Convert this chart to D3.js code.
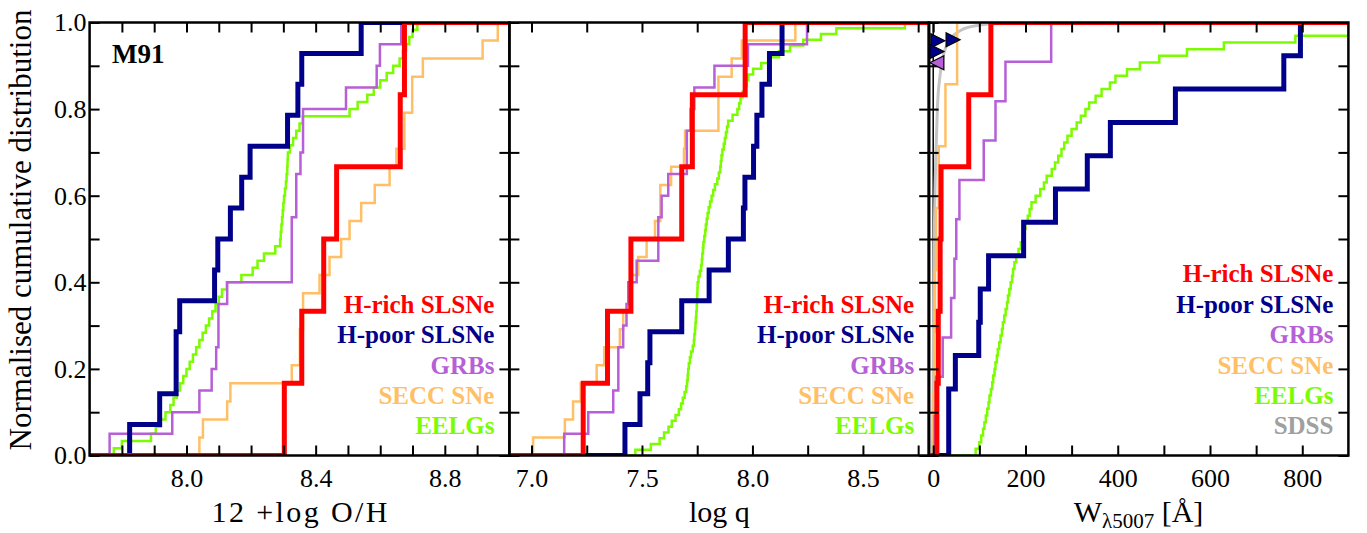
<!DOCTYPE html>
<html>
<head>
<meta charset="utf-8">
<script src="https://cdn.jsdelivr.net/npm/d3@7"></script>
<style>
  body { margin: 0; background: #fff; }
  svg text { font-family: "Liberation Serif", "Times New Roman", serif; }
  .axis text { font-size: 26px; fill: #000; }
  .axis line { stroke: #000; stroke-width: 2; }
  .legend text { font-size: 25px; font-weight: bold; }
</style>
</head>
<body>
<div class="chart"></div>
<script>

// ---- data ----
const groups = ["H-rich SLSNe", "H-poor SLSNe", "GRBs", "SECC SNe", "EELGs", "SDSS"];

// 12 + log O/H
const ohHrich = [8.303, 8.357, 8.425, 8.465, 8.662, 8.675];
const ohHpoor = [7.824, 7.917, 7.968, 7.968, 7.979, 8.087, 8.097, 8.136, 8.171, 8.197, 8.313, 8.345, 8.357, 8.541];
const ohGrb = [7.762, 7.956, 8.040, 8.078, 8.092, 8.099, 8.099, 8.126, 8.326, 8.326, 8.326, 8.340, 8.340, 8.353, 8.361, 8.361, 8.494, 8.589, 8.599, 8.665];
const ohSecc = [8.040, 8.051, 8.126, 8.136, 8.326, 8.351, 8.351, 8.361, 8.361, 8.412, 8.443, 8.479, 8.505, 8.541, 8.583, 8.629, 8.650, 8.675, 8.675, 8.699, 8.699, 8.732, 8.917, 8.964];
const ohEelg = [7.775, 7.80, 7.89, 7.905, 7.92, 7.935, 7.95, 7.96, 7.97, 7.98,
  7.99, 8.00, 8.01, 8.02, 8.03, 8.04, 8.05, 8.06, 8.07, 8.08,
  8.09, 8.10, 8.11, 8.125, 8.17, 8.205, 8.22, 8.24, 8.275, 8.29,
  8.292, 8.294, 8.296, 8.298, 8.30, 8.302, 8.305, 8.308, 8.31, 8.312,
  8.313, 8.314, 8.32, 8.33, 8.34, 8.35, 8.36, 8.505, 8.53, 8.56,
  8.58, 8.60, 8.62, 8.64, 8.66, 8.67, 8.68, 8.69, 8.70, 8.715];

// log q
const qHrich = [7.234, 7.344, 7.45, 7.68, 7.728, 7.967];
const qHpoor = [7.423, 7.491, 7.526, 7.536, 7.68, 7.804, 7.891, 7.959, 7.966, 8.005, 8.02, 8.043, 8.077, 8.134];
const qGrb = [7.148, 7.257, 7.37, 7.393, 7.393, 7.415, 7.43, 7.438, 7.476, 7.574, 7.574, 7.589, 7.619, 7.703, 7.703, 7.72, 7.737, 7.828, 7.98, 8.247];
const qSecc = [7.007, 7.151, 7.188, 7.223, 7.295, 7.329, 7.40, 7.415, 7.438, 7.45, 7.483, 7.521, 7.559, 7.583, 7.583, 7.632, 7.69, 7.695, 7.846, 7.846, 7.846, 7.906, 7.952, 8.194];
const qEelg = [7.47, 7.54, 7.58, 7.60, 7.62, 7.635, 7.652, 7.667, 7.677, 7.685,
  7.693, 7.70, 7.704, 7.707, 7.709, 7.712, 7.717, 7.722, 7.73, 7.735,
  7.737, 7.74, 7.742, 7.744, 7.746, 7.748, 7.749, 7.75, 7.751, 7.752,
  7.756, 7.762, 7.768, 7.771, 7.773, 7.776, 7.778, 7.782, 7.786, 7.789,
  7.793, 7.797, 7.802, 7.808, 7.815, 7.822, 7.83, 7.841, 7.848, 7.854,
  7.857, 7.86, 7.864, 7.87, 7.875, 7.88, 7.885, 7.89, 7.91, 7.932,
  7.94, 7.946, 7.955, 7.965, 7.975, 7.981, 8.003, 8.04, 8.08, 8.12,
  8.17, 8.23, 8.31, 8.38, 8.69];

// W_lambda5007 (Angstrom)
const ewHrich = [8, 11, 15, 17, 77, 125];
const ewHpoor = [33.6, 33.6, 48, 98.7, 102, 120, 196, 265, 334, 384, 525, 760, 796];
const ewGrb = [3, 6, 20.6, 38.8, 46, 50, 56.8, 109.5, 135, 156.6, 255.7];
const ewSecc = [0.5, 2, 4, 6, 12, 26.5, 51.8];
const ewEelg = [92, 100, 104, 108, 111, 114, 117, 120, 122, 125,
  128, 130, 133, 135, 138, 140, 143, 146, 149, 151,
  154, 157, 160, 162, 165, 168, 171, 173, 176, 180,
  185, 190, 194, 197, 200, 205, 209, 213, 222, 232,
  240, 246, 257, 264, 271, 278, 284, 291, 300, 311,
  320, 330, 338, 352, 365, 383, 395, 420, 448, 490,
  550, 630, 785, 950, 1150];
// SDSS: smooth cumulative curve
const sdssEw  = [-2, -1, 0, 1, 2, 3, 4, 6, 9, 15, 22, 40, 60, 95, 150, 250];
const sdssCdf = [0, 0.05, 0.18, 0.35, 0.47, 0.56, 0.62, 0.7, 0.8, 0.88, 0.925, 0.965, 0.982, 0.993, 0.998, 1];
// limits drawn as triangles
const limitEw    = [9, 42, 7, 9];
const limitCdf   = [0.958, 0.96, 0.933, 0.907];
const limitGroup = ["H-poor SLSNe", "H-poor SLSNe", "H-poor SLSNe", "GRBs"];
const limitDir   = ["right", "right", "right", "left"];

// ---- style ----
const serif = '"Liberation Serif", "Times New Roman", serif';
const colors = {
  "H-rich SLSNe": "#ff0000",
  "H-poor SLSNe": "#00008b",
  "GRBs": "#b65fd6",
  "SECC SNe": "#ffbf66",
  "EELGs": "#7cfc00",
  "SDSS": "#a0a0a0"
};
const widths = {"H-rich SLSNe": 5, "H-poor SLSNe": 5, "GRBs": 2.5, "SECC SNe": 2.5, "EELGs": 2.5};

const W = 1367, H = 533;
const plotTop = 22.5, plotBottom = 455.5;
const panelLeft = [89.6, 509.4, 928.6];
const panelW = 419.8;

const panels = [
  {domain: [7.7, 9.0], ticks: d3.range(7.8, 8.95, 0.1), labels: [8.0, 8.4, 8.8], fmt: d3.format(".1f"),
   series: {"EELGs": ohEelg, "SECC SNe": ohSecc, "GRBs": ohGrb, "H-poor SLSNe": ohHpoor, "H-rich SLSNe": ohHrich},
   legend: groups.slice(0, 5)},
  {domain: [6.9, 8.8], ticks: d3.range(7.0, 8.76, 0.25), labels: [7.0, 7.5, 8.0, 8.5], fmt: d3.format(".1f"),
   series: {"EELGs": qEelg, "SECC SNe": qSecc, "GRBs": qGrb, "H-poor SLSNe": qHpoor, "H-rich SLSNe": qHrich},
   legend: groups.slice(0, 5)},
  {domain: [-10, 900], ticks: d3.range(0, 801, 100), labels: [0, 200, 400, 600, 800], fmt: d3.format("d"),
   series: {"EELGs": ewEelg, "SECC SNe": ewSecc, "GRBs": ewGrb, "H-poor SLSNe": ewHpoor, "H-rich SLSNe": ewHrich},
   legend: groups}
];

const svg = d3.select(".chart").append("svg")
    .attr("width", W)
    .attr("height", H)
    .attr("font-family", serif);

const y = d3.scaleLinear().domain([0, 1]).range([plotBottom, plotTop]);
const yTicks = d3.range(0, 11).map(i => i / 10);

const step = d3.line().curve(d3.curveStepAfter);

panels.forEach((p, pi) => {
  const x = d3.scaleLinear().domain(p.domain).range([panelLeft[pi], panelLeft[pi] + panelW]);
  const g = svg.append("g").attr("class", "panel");

  svg.append("clipPath").attr("id", "clip" + pi)
    .append("rect")
    .attr("x", panelLeft[pi]).attr("y", plotTop)
    .attr("width", panelW).attr("height", plotBottom - plotTop);

  const lines = g.append("g").attr("clip-path", `url(#clip${pi})`);

  if (pi === 2) {
    // vertical line at W = 0
    lines.append("line")
      .attr("x1", x(0)).attr("x2", x(0))
      .attr("y1", plotTop).attr("y2", plotBottom)
      .attr("stroke", "#000").attr("stroke-width", 1.5);
    lines.append("path")
      .datum(sdssEw.map((w, i) => [w, sdssCdf[i]]))
      .attr("fill", "none")
      .attr("stroke", "#c4c4c4")
      .attr("stroke-width", 3)
      .attr("d", d3.line().x(d => x(d[0])).y(d => y(d[1])).curve(d3.curveMonotoneX));
  }

  Object.entries(p.series).forEach(([name, vals]) => {
    const s = vals.slice().sort(d3.ascending);
    const n = s.length;
    const pts = [[p.domain[0] - 1, 0]]
      .concat(s.map((v, i) => [v, (i + 1) / n]))
      .concat([[Math.max(p.domain[1], s[n - 1]) + 1, 1]]);
    lines.append("path")
      .datum(pts)
      .attr("fill", "none")
      .attr("stroke", colors[name])
      .attr("stroke-width", widths[name])
      .attr("stroke-linejoin", "miter")
      .attr("d", step.x(d => x(d[0])).y(d => y(d[1])));
  });

  // axes, ticks pointing inward
  const isLab = d => p.labels.some(l => Math.abs(l - d) < 1e-6);
  g.append("g").attr("class", "axis")
    .attr("transform", `translate(0,${plotBottom})`)
    .call(d3.axisBottom(x).tickValues(p.ticks).tickSizeInner(-10).tickSizeOuter(0).tickPadding(13)
      .tickFormat(d => isLab(d) ? p.fmt(d) : ""));
  g.append("g").attr("class", "axis")
    .attr("transform", `translate(0,${plotTop})`)
    .call(d3.axisTop(x).tickValues(p.ticks).tickSizeInner(-10).tickSizeOuter(0).tickFormat(""));
  g.append("g").attr("class", "axis")
    .attr("transform", `translate(${panelLeft[pi]},0)`)
    .call(d3.axisLeft(y).tickValues(yTicks).tickSizeInner(-10).tickSizeOuter(0).tickPadding(3)
      .tickFormat(d => (pi === 0 && Math.round(d * 10) % 2 === 0) ? d3.format(".1f")(d) : ""));
  g.append("g").attr("class", "axis")
    .attr("transform", `translate(${panelLeft[pi] + panelW},0)`)
    .call(d3.axisRight(y).tickValues(yTicks).tickSizeInner(-10).tickSizeOuter(0).tickFormat(""));
  g.selectAll(".axis .domain").remove();
  g.selectAll(".axis").attr("font-family", serif).attr("font-size", 26);

  g.append("rect")
    .attr("x", panelLeft[pi]).attr("y", plotTop)
    .attr("width", panelW).attr("height", plotBottom - plotTop)
    .attr("fill", "none").attr("stroke", "#000").attr("stroke-width", 2.5);

  if (pi === 2) {
    g.selectAll(".limit")
      .data(limitEw.map((w, i) => ({w, c: limitCdf[i], grp: limitGroup[i], dir: limitDir[i]})))
      .enter().append("path")
      .attr("class", "limit")
      .attr("d", d => d.dir === "right" ? "M-6.5,-7L7.5,0L-6.5,7Z" : "M6.5,-7L-7.5,0L6.5,7Z")
      .attr("transform", d => `translate(${x(d.w)},${y(d.c)})`)
      .attr("fill", d => colors[d.grp])
      .attr("stroke", "#000")
      .attr("stroke-width", 1.2);
  }

  // legend
  const leg = g.append("g").attr("class", "legend");
  const nL = p.legend.length;
  p.legend.forEach((name, i) => {
    leg.append("text")
      .attr("x", panelLeft[pi] + panelW - 15)
      .attr("y", 434.3 - (nL - 1 - i) * 30.4)
      .attr("text-anchor", "end")
      .attr("font-family", serif)
      .attr("font-weight", "bold")
      .attr("font-size", 25)
      .attr("fill", colors[name])
      .text(name);
  });
});

svg.append("text")
  .attr("x", 112).attr("y", 63)
  .attr("font-family", serif)
  .attr("font-size", 27).attr("font-weight", "bold")
  .text("M91");

// axis titles
const titleY = 522;
svg.append("text").attr("x", panelLeft[0] + panelW / 2).attr("y", titleY)
  .attr("text-anchor", "middle").attr("font-size", 30)
  .attr("textLength", 176).attr("lengthAdjust", "spacing")
  .text("12 +log O/H");
svg.append("text").attr("x", panelLeft[1] + panelW / 2).attr("y", titleY)
  .attr("text-anchor", "middle").attr("font-size", 30)
  .text("log q");
const wt = svg.append("text").attr("x", panelLeft[2] + panelW / 2).attr("y", titleY)
  .attr("text-anchor", "middle").attr("font-size", 30);
wt.append("tspan").text("W");
wt.append("tspan").attr("font-size", 21).attr("dy", 6).text("λ5007");
wt.append("tspan").attr("dy", -6).text(" [Å]");

svg.append("text")
  .attr("transform", `translate(31,230) rotate(-90)`)
  .attr("text-anchor", "middle")
  .attr("font-size", 31)
  .text("Normalised cumulative distribution");

</script>
</body>
</html>
